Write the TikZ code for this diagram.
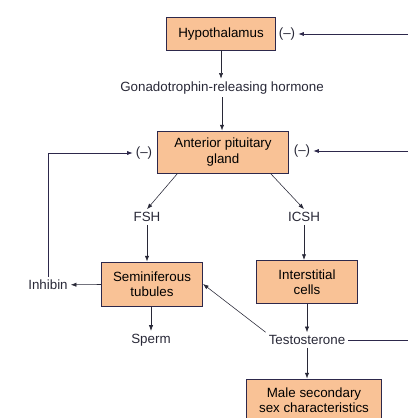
\documentclass[tikz,border=0pt]{standalone}
\usepackage{fontspec}
\setmainfont{Liberation Sans}
\usepackage{tikz}
\usetikzlibrary{positioning,arrows.meta,calc}
\definecolor{glandfill}{RGB}{249, 194, 150}
\definecolor{glandline}{RGB}{45, 40, 75}
\definecolor{flowgray}{RGB}{40, 40, 55}

\begin{document}
\begin{tikzpicture}[x=0.025cm, y=-0.025cm,
    gland/.style={rectangle, draw=glandline, fill=glandfill, line width=0.7pt,
                  align=center, inner sep=2pt, font=\fontsize{9.5}{11}\selectfont},
    label/.style={inner sep=2pt, font=\fontsize{9.5}{11}\selectfont, text=flowgray},
    arrow/.style={-{Latex[length=4pt,width=3pt]}, thin, flowgray},
    feed/.style={-{Latex[length=4pt,width=3pt]}, line width=0.6pt, glandline}
]
\useasboundingbox (0,0) rectangle (408,418);
% glands and tissues
\node[gland, minimum width=2.7cm, minimum height=0.8cm] (hypo) at (221,34) {Hypothalamus};
\node[gland, minimum width=3.25cm, minimum height=1.05cm] (ant) at (223,152) {Anterior pituitary\\gland};
\node[gland, minimum width=2.525cm, minimum height=1.1cm] (semi) at (152,284) {Seminiferous\\tubules};
\node[gland, minimum width=2.525cm, minimum height=1.08cm] (inter) at (307,282) {Interstitial\\cells};
\node[gland, minimum width=3.35cm, minimum height=1.05cm] (male) at (314,400) {Male secondary\\sex characteristics};
% hormones and products
\node[label] (grh) at (222,88) {Gonadotrophin-releasing hormone};
\node[label] (fsh) at (147,217) {FSH};
\node[label] (icsh) at (304,217) {ICSH};
\node[label] (inhibin) at (48,285) {Inhibin};
\node[label] (sperm) at (151,340) {Sperm};
\node[label] (testo) at (307,340) {Testosterone};
% inhibition marks
\node[label] (hypominus) at (287,34) {(--)};
\node[label] (antminusL) at (144,153) {(--)};
\node[label] (antminusR) at (302,151) {(--)};
% feedback loops leave the page on the right
\coordinate (rtop) at (408,34);
\coordinate (rmid) at (408,151);
\coordinate (rlow) at (408,340);

\draw[arrow] (hypo) -- (hypo |- grh.north);
\draw[arrow] (grh) -- (grh |- ant.north);
\draw[arrow] (ant.south west) ++(20,0) -- (fsh.north);
\draw[arrow] (ant.south east) ++(-18,0) -- (icsh.north);
\draw[arrow] (fsh) -- (fsh |- semi.north);
\draw[arrow] (icsh) -- (icsh |- inter.north);
\draw[arrow] (semi) -- (inhibin);
\draw[arrow] (semi.south -| sperm) -- (sperm);
\draw[arrow] (inter.south -| testo) -- (testo);
\draw[arrow] (testo) -- (testo |- male.north);
\draw[arrow] (testo.north west) -- (semi.east);
\draw[feed] (inhibin.north) |- (antminusL);
\draw[feed] (rtop) -- (hypominus);
\draw[feed] (rmid) -- (antminusR);
\draw[line width=0.6pt, glandline] (testo) -- (rlow);
\end{tikzpicture}
\end{document}
